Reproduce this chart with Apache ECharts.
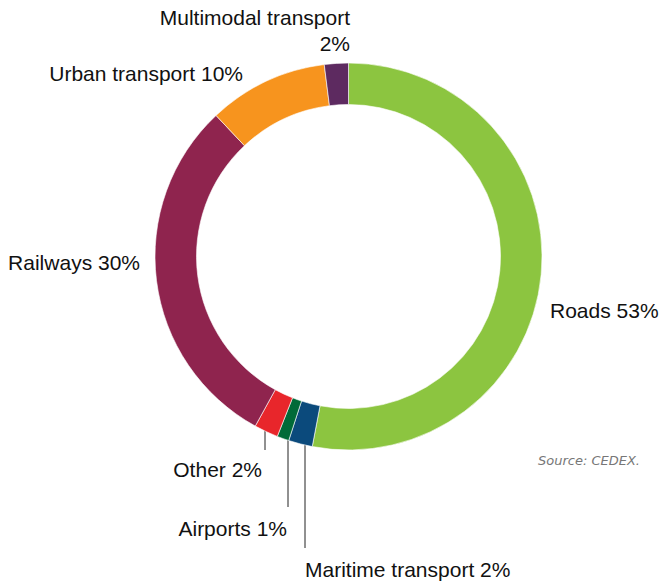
<!DOCTYPE html>
<html>
<head>
<meta charset="utf-8">
<script src="https://cdn.jsdelivr.net/npm/echarts@6/dist/echarts.min.js"></script>
<style>
  html, body { margin: 0; padding: 0; background: #fff; }
  #main { width: 663px; height: 584px; }
</style>
</head>
<body>
<div id="main"></div>
<script>
// transport modes, clockwise from 12 o'clock
var modes = ['Roads', 'Maritime transport', 'Airports', 'Other', 'Railways', 'Urban transport', 'Multimodal transport'];
var shares = [53, 2, 1, 2, 30, 10, 2];
var colors = ['#8cc540', '#0b4a7c', '#006a38', '#e8262b', '#8f244e', '#f7941e', '#5d2a60'];
var labelText = ['Roads 53%', 'Maritime transport 2%', 'Airports 1%', 'Other 2%', 'Railways 30%', 'Urban transport 10%', 'Multimodal transport\n2%'];

// where each label sits (x, y, align) and the leader line for the small slices
var labelSpot = [
  [550, 310, 'left'],
  [305, 569, 'left'],
  [287, 528, 'right'],
  [262, 469, 'right'],
  [140, 262, 'right'],
  [243, 73, 'right'],
  [350, 30, 'right']
];
var leaders = {
  1: [[305, 444], [305, 500], [305, 548]],
  2: [[288, 440], [288, 480], [288, 507]],
  3: [[265, 428], [265, 440], [265, 450]]
};

var chart = echarts.init(document.getElementById('main'), null, { renderer: 'svg' });

var pieData = [];
for (var i = 0; i < modes.length; i++) {
  pieData.push({
    name: modes[i],
    value: shares[i],
    itemStyle: { color: colors[i] },
    label: { formatter: labelText[i] },
    labelLine: { show: !!leaders[i] }
  });
}

var option = {
  animation: false,
  series: [{
    type: 'pie',
    center: [348.5, 256.5],
    radius: [152, 193.5],
    startAngle: 90,
    clockwise: true,
    avoidLabelOverlap: false,
    itemStyle: { borderColor: '#fff', borderWidth: 0.6 },
    label: {
      show: true,
      position: 'outside',
      color: '#111',
      fontFamily: 'Liberation Sans, Arial, sans-serif',
      fontSize: 21,
      lineHeight: 26
    },
    labelLine: {
      lineStyle: { color: '#222', width: 1 }
    },
    labelLayout: function(params) {
      var s = labelSpot[params.dataIndex];
      var res = { x: s[0], y: s[1], align: s[2], verticalAlign: 'middle' };
      if (leaders[params.dataIndex]) res.labelLinePoints = leaders[params.dataIndex];
      return res;
    },
    data: pieData
  }],
  graphic: [{
    type: 'text',
    left: 538,
    top: 454,
    style: {
      text: 'Source: CEDEX.',
      fill: '#777',
      font: 'italic 13px "DejaVu Sans", sans-serif'
    }
  }]
};

chart.setOption(option);
</script>
</body>
</html>
